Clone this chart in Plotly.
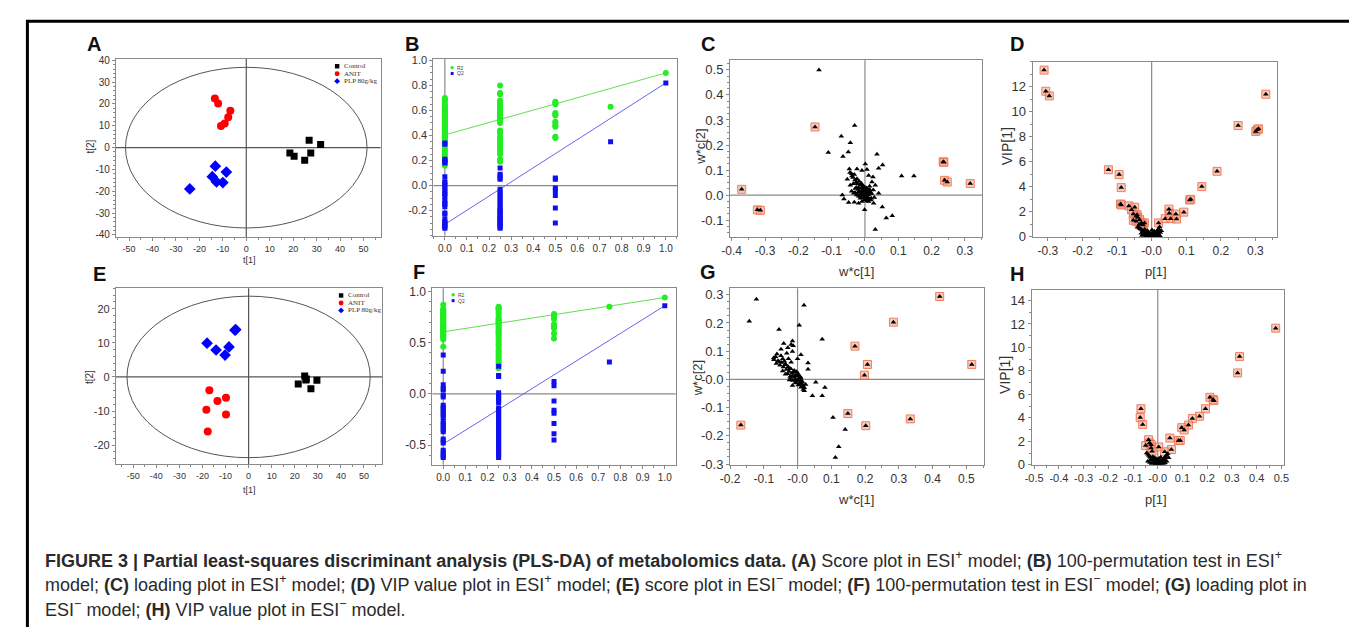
import plotly.graph_objects as go

W, H = 1357, 627
SANS = "Liberation Sans, Arial, sans-serif"
SERIF = "Liberation Serif, Times New Roman, serif"

# ---------------- Data ----------------
groups = ["Control", "ANIT", "PLP 80g/kg"]
group_colors = ["#000000", "#ff0000", "#0000ff"]
group_symbols = ["square", "circle", "diamond"]

# Panel A : score plot ESI+
a_control_x = [26.8, 31.7, 18.6, 20.4, 27.5, 24.9]
a_control_y = [3.4, 1.4, -2.5, -4.0, -2.5, -5.8]
a_anit_x = [-13.4, -12.0, -6.8, -7.7, -9.2, -10.8]
a_anit_y = [22.5, 20.2, 16.9, 13.9, 11.1, 9.9]
a_plp_x = [-13.2, -8.5, -14.5, -12.7, -10.0, -24.1]
a_plp_y = [-8.5, -11.2, -13.3, -15.7, -16.0, -18.9]
a_ellipse = [51.5, 36.8]

# Panel E : score plot ESI-
e_control_x = [24.3, 25.0, 21.5, 29.6, 27.0, 24.8]
e_control_y = [0.3, -0.6, -2.1, -1.0, -3.5, -0.9]
e_anit_x = [-17.0, -13.5, -9.8, -18.3, -9.8, -17.7]
e_anit_y = [-3.9, -7.1, -6.1, -9.6, -11.0, -16.0]
e_plp_x = [-5.6, -5.9, -18.0, -14.1, -8.5, -10.2]
e_plp_y = [13.9, 13.7, 9.9, 7.9, 8.8, 6.4]
e_ellipse = [52.7, 23.7]

# Panel B : permutation test ESI+
b_r2_000 = [0.70, 0.69, 0.68, 0.66, 0.64, 0.63, 0.62, 0.61, 0.60, 0.59, 0.58, 0.57, 0.56, 0.55, 0.54,
            0.53, 0.52, 0.51, 0.50, 0.49, 0.48, 0.47, 0.46, 0.45, 0.44, 0.43, 0.42, 0.41, 0.40, 0.39,
            0.38, 0.37, 0.36, 0.34, 0.32, 0.30, 0.28, 0.26, 0.24, 0.22, 0.20, 0.18, 0.16]
b_q2_000 = [0.34, 0.33, 0.21, 0.20, 0.19, 0.18, 0.07, 0.03, 0.02, 0.00, -0.02, -0.04, -0.06, -0.07,
            -0.09, -0.12, -0.14, -0.15, -0.17, -0.22, -0.23, -0.27, -0.29, -0.30, -0.31, -0.32, -0.33, -0.34]
b_r2_025 = [0.80, 0.74, 0.73, 0.68, 0.67, 0.66, 0.64, 0.63, 0.62, 0.61, 0.60, 0.59, 0.58, 0.57, 0.56,
            0.55, 0.54, 0.53, 0.52, 0.51, 0.50, 0.44, 0.43, 0.42, 0.39, 0.38, 0.37, 0.36, 0.34, 0.33,
            0.31, 0.30, 0.28, 0.26, 0.25, 0.21, 0.20, 0.19]
b_q2_025 = [0.14, 0.09, 0.08, 0.06, 0.05, -0.03, -0.05, -0.07, -0.09, -0.11, -0.13, -0.15, -0.17,
            -0.19, -0.20, -0.21, -0.22, -0.24, -0.25, -0.26, -0.27, -0.28, -0.29, -0.30, -0.31, -0.32,
            -0.33, -0.34]
b_r2_050 = [0.67, 0.66, 0.65, 0.58, 0.57, 0.56, 0.51, 0.50, 0.48, 0.47, 0.39, 0.38]
b_q2_050 = [0.06, 0.05, -0.02, -0.04, -0.08, -0.18, -0.30]
b_r2_075 = [0.63]
b_q2_075 = [0.35]
b_r2_100 = [0.90]
b_q2_100 = [0.82]
b_r2_intercept = 0.405
b_q2_intercept = -0.31

# Panel F : permutation test ESI-
f_r2_000 = [0.87, 0.83, 0.82, 0.81, 0.80, 0.79, 0.78, 0.77, 0.76, 0.75, 0.74, 0.73, 0.72, 0.71, 0.70,
            0.69, 0.68, 0.67, 0.66, 0.65, 0.64, 0.63, 0.62, 0.61, 0.60, 0.59, 0.58, 0.57, 0.56, 0.55,
            0.53, 0.46]
f_q2_000 = [0.38, 0.22, 0.09, 0.05, 0.04, -0.01, -0.03, -0.11, -0.13, -0.15, -0.17, -0.19, -0.21,
            -0.23, -0.27, -0.29, -0.31, -0.33, -0.35, -0.37, -0.44, -0.46, -0.48, -0.55, -0.57, -0.59,
            -0.61, -0.62]
f_r2_025 = [0.85, 0.84, 0.83, 0.82, 0.80, 0.78, 0.75, 0.73, 0.72, 0.71, 0.70, 0.69, 0.67, 0.65, 0.63,
            0.61, 0.60, 0.58, 0.56, 0.53, 0.51, 0.49, 0.47, 0.44, 0.42, 0.40, 0.38, 0.36, 0.34, 0.32,
            0.30, 0.28, 0.25]
f_q2_025 = [0.27, 0.18, 0.17, 0.01, -0.01, -0.03, -0.05, -0.07, -0.09, -0.14, -0.16, -0.18, -0.20,
            -0.22, -0.24, -0.26, -0.28, -0.30, -0.32, -0.34, -0.36, -0.38, -0.40, -0.42, -0.44, -0.46,
            -0.48, -0.50, -0.52, -0.54, -0.56, -0.58, -0.60, -0.62]
f_r2_050 = [0.78, 0.76, 0.75, 0.73, 0.68, 0.66, 0.64, 0.59, 0.54]
f_q2_050 = [0.12, 0.08, -0.07, -0.16, -0.19, -0.29, -0.39, -0.45]
f_r2_075 = [0.85]
f_q2_075 = [0.31]
f_r2_100 = [0.94]
f_q2_100 = [0.86]
f_r2_intercept = 0.605
f_q2_intercept = -0.49

# Panel C : loading plot ESI+ (w*c[1], w*c[2]) - highlighted (VIP) variables
c_hi_x = [-0.370, -0.323, -0.314, -0.150, 0.235, 0.237, 0.239, 0.247, 0.316]
c_hi_y = [0.023, -0.059, -0.061, 0.272, 0.133, 0.131, 0.059, 0.052, 0.046]
# other variables
c_lo_x = [-0.138, -0.031, -0.071, -0.044, -0.110, -0.050, -0.066, 0.036, 0.053, 0.041, 0.110, 0.147,
          0.082, 0.052, 0.064, 0.031, -0.001, 0.001, 0.006, -0.009, -0.024, -0.047, -0.032, -0.039,
          -0.053, -0.024, -0.044, -0.068, -0.063, -0.049, -0.032, -0.019, -0.009, 0.011, 0.026, 0.016,
          0.041, 0.031, 0.021, 0.024, 0.011, -0.014, -0.029, -0.019, -0.009, 0.001, -0.004, 0.006,
          -0.014, -0.001, 0.011, -0.024, -0.034, 0.019, -0.006, 0.003, -0.011, 0.008, -0.002, 0.014,
          -0.020, 0.004, -0.016, 0.009, -0.008, 0.000,
          -0.045, -0.040, -0.036, -0.030, -0.027, -0.022, -0.018, -0.012, -0.008, -0.004, 0.000, 0.004,
          0.008, 0.012, 0.016, 0.020, -0.026, -0.020, -0.016, -0.012, -0.006, 0.002, 0.007, 0.012,
          0.018, -0.030, -0.025, -0.019, -0.013, -0.007, 0.000, 0.006, -0.040, -0.035, -0.003, 0.010,
          0.025, 0.028, -0.010, 0.014]
c_lo_y = [0.500, 0.278, 0.235, 0.209, 0.170, 0.172, 0.154, 0.163, 0.120, 0.107, 0.076, 0.076,
          -0.082, -0.048, -0.091, -0.137, -0.059, 0.124, 0.102, 0.098, 0.104, 0.104, 0.082, 0.076,
          0.063, 0.065, 0.039, 0.000, -0.016, -0.030, -0.029, -0.033, -0.026, -0.026, -0.033, 0.007,
          0.007, 0.039, 0.052, 0.072, 0.078, 0.039, 0.026, 0.013, 0.000, 0.013, 0.026, -0.007,
          -0.013, -0.020, 0.000, 0.000, 0.007, -0.013, 0.018, 0.020, 0.005, 0.003, -0.010, 0.022,
          0.030, -0.015, 0.010, 0.015, 0.008, 0.004,
          0.090, 0.085, 0.070, 0.060, 0.050, 0.045, 0.055, 0.048, 0.040, 0.035, 0.030, 0.028,
          0.024, 0.018, 0.012, 0.006, 0.030, 0.022, 0.017, 0.012, 0.006, -0.002, -0.008, -0.015,
          -0.020, 0.010, 0.003, -0.005, -0.008, -0.012, -0.018, -0.024, 0.015, 0.045, 0.015, 0.008,
          0.020, -0.010, 0.028, 0.035]

# Panel D : VIP plot ESI+ (p[1], VIP[1])
d_hi_x = [-0.311, -0.306, -0.296, -0.125, -0.094, -0.088, -0.090, -0.088, -0.066, -0.058, -0.049,
          -0.053, -0.042, -0.053, -0.045, -0.035, -0.030, -0.021, -0.040, -0.036, -0.025, -0.045,
          -0.028, 0.020, 0.039, 0.050, 0.051, 0.055, 0.070, 0.072, 0.093, 0.110, 0.113, 0.145, 0.189,
          0.250, 0.301, 0.305, 0.309, 0.330]
d_hi_y = [13.33, 11.64, 11.27, 5.37, 4.98, 3.94, 2.63, 2.56, 2.48, 2.17, 2.37, 1.83, 1.77, 1.33,
          1.25, 1.38, 1.12, 1.12, 1.55, 1.00, 0.95, 1.65, 1.05, 1.12, 1.46, 2.22, 1.90, 1.46, 1.83,
          1.43, 1.98, 2.95, 3.00, 4.02, 5.24, 8.90, 8.43, 8.56, 8.64, 11.40]
d_lo_x = [-0.040, -0.036, -0.033, -0.030, -0.027, -0.024, -0.021, -0.018, -0.015, -0.012, -0.010,
          -0.008, -0.006, -0.004, -0.002, 0.000, 0.002, 0.004, 0.006, 0.008, 0.010, 0.012, 0.014,
          0.016, 0.018, 0.020, 0.023, -0.005, 0.000, 0.005, -0.010, 0.010, -0.003, 0.003, -0.015,
          0.015, -0.007, 0.007, 0.001,
          -0.030, -0.025, -0.020, -0.015, 0.015, 0.020, 0.025, 0.028, -0.012, -0.020, 0.008, -0.002,
          0.004, -0.008, 0.012, 0.024, -0.028]
d_lo_y = [0.80, 0.72, 0.65, 0.60, 0.52, 0.45, 0.40, 0.35, 0.30, 0.25, 0.20, 0.16, 0.12, 0.08, 0.04,
          0.00, 0.05, 0.10, 0.15, 0.20, 0.26, 0.32, 0.40, 0.48, 0.56, 0.65, 0.80, 0.02, 0.10, 0.02,
          0.05, 0.05, 0.20, 0.25, 0.10, 0.12, 0.30, 0.35, 0.55,
          0.30, 0.20, 0.15, 0.05, 0.05, 0.20, 0.35, 0.50, 0.50, 0.62, 0.45, 0.30, 0.35, 0.25, 0.15,
          0.10, 0.12]

# Panel G : loading plot ESI-
g_hi_x = [0.421, 0.284, 0.170, 0.207, 0.198, 0.516, 0.149, 0.202, 0.334, -0.168]
g_hi_y = [0.294, 0.203, 0.118, 0.053, 0.015, 0.053, -0.121, -0.164, -0.140, -0.162]
g_lo_x = [-0.122, -0.143, -0.055, 0.019, 0.005, 0.073, 0.105, 0.141, 0.122, 0.112, 0.044, 0.073,
          0.081, 0.054, 0.031, 0.031, 0.010, 0.000, -0.071, -0.061, -0.049, -0.041, -0.032, -0.015,
          -0.013, -0.015, -0.027, -0.039, -0.036, -0.024, -0.019, -0.021, -0.015, -0.010, -0.007,
          -0.003, 0.003, 0.005, 0.010, 0.007, 0.013, 0.017, 0.020, -0.007, -0.024, -0.015, -0.005,
          0.000, 0.010, 0.015, -0.063, -0.053, -0.044, -0.049, -0.029, -0.019, 0.001, 0.008, 0.012,
          -0.070, -0.065, -0.058, -0.052, -0.047, -0.042, -0.037, -0.033, -0.028, -0.025, -0.020,
          -0.017, -0.012, -0.009, -0.004, -0.001, 0.004, 0.008, 0.012, 0.016, 0.020, 0.024, -0.030,
          -0.022, -0.014, -0.006, 0.002, 0.010, -0.044, -0.036]
g_lo_y = [0.284, 0.206, 0.177, 0.263, 0.192, 0.142, -0.135, -0.178, -0.239, -0.277, -0.058, -0.058,
          -0.029, -0.010, 0.058, 0.036, 0.087, 0.073, 0.076, 0.090, 0.107, 0.127, 0.093, 0.136,
          0.119, 0.099, 0.073, 0.064, 0.055, 0.038, 0.061, 0.003, 0.013, 0.032, 0.015, 0.027, 0.014,
          -0.002, -0.008, -0.015, -0.026, -0.036, -0.040, 0.000, -0.002, -0.022, -0.013, -0.003,
          0.004, -0.010, 0.056, 0.062, 0.073, 0.084, 0.112, 0.124, 0.021, 0.009, -0.018,
          0.070, 0.080, 0.066, 0.050, 0.060, 0.044, 0.052, 0.035, 0.045, 0.028, 0.038, 0.022, 0.025,
          0.008, 0.012, -0.004, 0.002, -0.012, -0.006, -0.022, -0.030, -0.018, 0.020, 0.010, -0.004,
          -0.010, -0.020, -0.028, 0.030, 0.018]

# Panel H : VIP plot ESI-
h_hi_x = [0.477, 0.331, 0.323, 0.211, 0.224, 0.227, 0.193, 0.169, 0.140, 0.124, 0.097, 0.107, 0.084,
          0.091, 0.049, 0.055, 0.028, 0.004, -0.068, -0.071, -0.061, -0.037, -0.033, -0.049, -0.027,
          -0.027, -0.023]
h_hi_y = [11.64, 9.22, 7.83, 5.75, 5.56, 5.47, 4.78, 4.14, 3.94, 3.39, 3.17, 2.97, 2.08, 2.08, 2.28,
          1.31, 1.11, 1.53, 4.78, 4.03, 3.44, 2.14, 1.86, 1.64, 1.72, 1.44, 1.17]
h_lo_x = [-0.045, -0.040, -0.036, -0.032, -0.028, -0.024, -0.020, -0.016, -0.012, -0.008, -0.004,
          0.000, 0.004, 0.008, 0.012, 0.016, 0.020, 0.024, 0.028, 0.032, 0.036, 0.040, -0.010, 0.010,
          -0.005, 0.005, 0.000, -0.015, 0.015, 0.030, 0.022,
          -0.040, -0.032, -0.025, -0.020, -0.012, 0.012, 0.022, 0.030, 0.036, 0.044, 0.005, -0.005,
          0.000, 0.018, -0.028]
h_lo_y = [1.00, 0.90, 0.80, 0.70, 0.62, 0.52, 0.44, 0.36, 0.28, 0.20, 0.10, 0.02, 0.10, 0.20, 0.28,
          0.36, 0.44, 0.52, 0.62, 0.72, 0.82, 0.95, 0.05, 0.05, 0.30, 0.30, 0.40, 0.15, 0.15, 0.40,
          0.20,
          0.30, 0.20, 0.10, 0.70, 0.60, 0.65, 0.10, 0.15, 0.30, 0.60, 0.55, 0.50, 0.20, 0.30, 0.45]

# ---------------- Layout geometry (pixels) ----------------
panels = {
    1: dict(box=(99, 47.7, 366.7, 229.3), xr=[-55.6, 57.3], yr=[-40.9, 40.7]),     # A
    2: dict(box=(420, 47.7, 666.7, 228.0), xr=[-0.052, 1.052], yr=[-0.40, 1.013]),  # B
    3: dict(box=(720, 49.3, 975, 229.3), xr=[-0.405, 0.352], yr=[-0.167, 0.538]),   # C
    4: dict(box=(1026, 50.7, 1273.3, 229.3), xr=[-0.344, 0.363], yr=[0, 14.0]),     # D
    5: dict(box=(99, 281.7, 368.3, 461), xr=[-57.5, 57.9], yr=[-25.6, 26.0]),       # E
    6: dict(box=(419, 281.7, 665, 461.7), xr=[-0.049, 1.049], yr=[-0.693, 1.03]),   # F
    7: dict(box=(720, 281.7, 976.7, 461.7), xr=[-0.2, 0.552], yr=[-0.303, 0.323]),  # G
    8: dict(box=(1025, 283.3, 1280, 461.7), xr=[-0.51, 0.51], yr=[0, 14.9]),        # H
}

AXC = "#8a8a8a"
TXT = "#333333"


def xdom(l, r):
    return [l / W, r / W]


def ydom(t, b):
    return [1 - b / H, 1 - t / H]


def frange(a, b, s):
    n = int(round((b - a) / s))
    return [round(a + i * s, 6) for i in range(n + 1)]


tick_cfg = {
    1: dict(x=(frange(-50, 50, 10), None, 5, 9), y=(frange(-40, 40, 10), None, 2, 10)),
    2: dict(x=(frange(0, 1, 0.1), "{:.1f}", 0.05, 10), y=(frange(-0.2, 1.0, 0.2), "{:.1f}", 0.05, 11)),
    3: dict(x=(frange(-0.4, 0.3, 0.1), "-0", 0.05, 12), y=(frange(-0.1, 0.5, 0.1), "{:.1f}", 0.025, 13)),
    4: dict(x=(frange(-0.3, 0.3, 0.1), "-0", 0.05, 12), y=(frange(0, 12, 2), None, 1, 13)),
    5: dict(x=(frange(-50, 50, 10), None, 5, 9), y=(frange(-20, 20, 10), None, 2, 11)),
    6: dict(x=(frange(0, 1, 0.1), "{:.1f}", 0.05, 10), y=(frange(-0.5, 1.0, 0.5), "{:.1f}", 0.1, 12)),
    7: dict(x=(frange(-0.2, 0.5, 0.1), "-0", 0.05, 12), y=(frange(-0.3, 0.3, 0.1), "-0", 0.025, 13)),
    8: dict(x=(frange(-0.5, 0.5, 0.1), "-0", 0.05, 11), y=(frange(0, 14, 2), None, 1, 13)),
}


def tick_text(vals, mode):
    out = []
    for v in vals:
        if mode is None:
            out.append(str(int(round(v))))
        elif mode == "-0":
            out.append("-0.0" if abs(v) < 1e-9 else "{:.1f}".format(v))
        else:
            out.append(mode.format(v))
    return out


fig = go.Figure()
layout_axes = {}
for k, p in panels.items():
    l, t, r, b = p["box"]
    sx = "" if k == 1 else str(k)
    tc = tick_cfg[k]
    xv, xm, xminor, xfs = tc["x"]
    yv, ym, yminor, yfs = tc["y"]
    common = dict(showgrid=False, zeroline=False, showline=True, linecolor=AXC, linewidth=1,
                  mirror=True, ticks="outside", ticklen=3, tickcolor=AXC, tickwidth=1,
                  fixedrange=True)
    layout_axes["xaxis" + sx] = dict(
        common, domain=xdom(l, r), range=p["xr"], anchor="y" + sx,
        tickmode="array", tickvals=xv, ticktext=tick_text(xv, xm),
        tickfont=dict(family=SANS, size=xfs, color=TXT),
        minor=dict(ticks="outside", ticklen=2, tickcolor=AXC, dtick=xminor, tick0=0, showgrid=False))
    layout_axes["yaxis" + sx] = dict(
        common, domain=ydom(t, b), range=p["yr"], anchor="x" + sx,
        tickmode="array", tickvals=yv, ticktext=tick_text(yv, ym),
        tickfont=dict(family=SANS, size=yfs, color=TXT),
        minor=dict(ticks="outside", ticklen=2, tickcolor=AXC, dtick=yminor, tick0=0, showgrid=False))


def add(k, x, y, **kw):
    sx = "" if k == 1 else str(k)
    fig.add_trace(go.Scatter(x=x, y=y, xaxis="x" + sx, yaxis="y" + sx, showlegend=False,
                             hoverinfo="skip", **kw))


# Score plots
for k, data in ((1, [(a_control_x, a_control_y), (a_anit_x, a_anit_y), (a_plp_x, a_plp_y)]),
                (5, [(e_control_x, e_control_y), (e_anit_x, e_anit_y), (e_plp_x, e_plp_y)])):
    for gi, (gx, gy) in enumerate(data):
        sz = {"square": 7, "circle": 8, "diamond": 9}[group_symbols[gi]]
        add(k, gx, gy, mode="markers",
            marker=dict(symbol=group_symbols[gi], color=group_colors[gi], size=sz, line=dict(width=0)))


# Permutation plots
def perm(k, r2cols, q2cols, r2i, q2i):
    levels = [0.0, 0.25, 0.5, 0.75, 1.0]
    rx, ry, qx, qy = [], [], [], []
    for lv, col in zip(levels, r2cols):
        rx += [lv] * len(col)
        ry += col
    for lv, col in zip(levels, q2cols):
        qx += [lv] * len(col)
        qy += col
    add(k, [0, 1.0], [r2i, r2cols[-1][0]], mode="lines", line=dict(color="#66dd55", width=1))
    add(k, [0, 1.0], [q2i, q2cols[-1][0]], mode="lines", line=dict(color="#6666ee", width=1))
    add(k, rx, ry, mode="markers", marker=dict(symbol="circle", color="#22ee22", size=6))
    add(k, qx, qy, mode="markers", marker=dict(symbol="square", color="#1010ee", size=5))


perm(2, [b_r2_000, b_r2_025, b_r2_050, b_r2_075, b_r2_100],
     [b_q2_000, b_q2_025, b_q2_050, b_q2_075, b_q2_100], b_r2_intercept, b_q2_intercept)
perm(6, [f_r2_000, f_r2_025, f_r2_050, f_r2_075, f_r2_100],
     [f_q2_000, f_q2_025, f_q2_050, f_q2_075, f_q2_100], f_r2_intercept, f_q2_intercept)

HI = dict(symbol="square", size=8, color="rgba(248,165,140,0.6)",
          line=dict(color="rgba(236,110,75,0.85)", width=1))
TRI = dict(symbol="triangle-up", size=5, color="#000000", line=dict(width=0))

# Loading / VIP plots
for k, hx, hy, lx, ly in ((3, c_hi_x, c_hi_y, c_lo_x, c_lo_y),
                          (4, d_hi_x, d_hi_y, d_lo_x, d_lo_y),
                          (7, g_hi_x, g_hi_y, g_lo_x, g_lo_y),
                          (8, h_hi_x, h_hi_y, h_lo_x, h_lo_y)):
    add(k, hx, hy, mode="markers", marker=HI)
    add(k, lx, ly, mode="markers", marker=TRI)
    add(k, hx, hy, mode="markers", marker=TRI)

shapes = []
# zero cross lines
for k in panels:
    sx = "" if k == 1 else str(k)
    col = "#555555" if k in (1, 5) else "#8a8a8a"
    shapes.append(dict(type="line", xref="x" + sx, yref="y" + sx + " domain", x0=0, x1=0, y0=0, y1=1,
                       line=dict(color=col, width=1.2), layer="below"))
    if k not in (4, 8):
        shapes.append(dict(type="line", xref="x" + sx + " domain", yref="y" + sx, x0=0, x1=1, y0=0, y1=0,
                           line=dict(color=col, width=1.2), layer="below"))
# Hotelling ellipses
for k, (rx, ry) in ((1, a_ellipse), (5, e_ellipse)):
    sx = "" if k == 1 else str(k)
    shapes.append(dict(type="circle", xref="x" + sx, yref="y" + sx, x0=-rx, x1=rx, y0=-ry, y1=ry,
                       line=dict(color="#555555", width=1), layer="below"))


# legend markers (paper coordinates)
def pmark(kind, cx, cy, s, color):
    x0, x1 = (cx - s / 2) / W, (cx + s / 2) / W
    y0, y1 = 1 - (cy + s / 2) / H, 1 - (cy - s / 2) / H
    if kind == "square":
        return dict(type="rect", xref="paper", yref="paper", x0=x0, x1=x1, y0=y0, y1=y1,
                    fillcolor=color, line=dict(width=0))
    if kind == "circle":
        return dict(type="circle", xref="paper", yref="paper", x0=x0, x1=x1, y0=y0, y1=y1,
                    fillcolor=color, line=dict(width=0))
    xm, ym = cx / W, 1 - cy / H
    return dict(type="path", xref="paper", yref="paper",
                path=f"M {x0} {ym} L {xm} {y1} L {x1} {ym} L {xm} {y0} Z",
                fillcolor=color, line=dict(width=0))


annotations = []


def ann(text, x, y, size, family=SANS, color="#222222", angle=0, xanchor="center", yanchor="middle"):
    annotations.append(dict(text=text, x=x / W, y=1 - y / H, xref="paper", yref="paper",
                            showarrow=False, font=dict(family=family, size=size, color=color),
                            textangle=angle, xanchor=xanchor, yanchor=yanchor))


for (mx, my0) in ((322.7, 55.3), (326.7, 289.0)):
    for gi, g in enumerate(groups):
        cy = my0 + gi * 7.6
        s = {"square": 4.5, "circle": 5, "diamond": 6}[group_symbols[gi]]
        shapes.append(pmark(group_symbols[gi], mx, cy, s, group_colors[gi]))
        ann(g, mx + 4.5, cy, 7, family=SERIF, color="#333333", xanchor="left")

for (mx, my0) in ((439, 56.7), (440, 288.3)):
    shapes.append(pmark("circle", mx, my0, 3.5, "#22ee22"))
    shapes.append(pmark("square", mx, my0 + 6, 3, "#1010ee"))
    ann("R2", mx + 3, my0, 5, color="#444444", xanchor="left")
    ann("Q2", mx + 3, my0 + 6, 5, color="#444444", xanchor="left")

# panel letters
for letter, x, y in (("A", 77, 33), ("B", 398, 33), ("C", 698, 33), ("D", 1010, 33),
                     ("E", 82, 267), ("F", 405, 265), ("G", 698, 265), ("H", 1010, 267)):
    ann("<b>" + letter + "</b>", x, y, 20, color="#111111")

# axis titles
for text, x, y, size, ang in (("t[1]", 234, 253, 9, 0), ("t[2]", 73, 137, 10, -90),
                              ("w*c[1]", 847, 265, 13, 0), ("w*c[2]", 690, 137, 13, -90),
                              ("p[1]", 1151, 265, 13, 0), ("VIP[1]", 1000, 137, 14, -90),
                              ("t[1]", 234, 487, 9, 0), ("t[2]", 73, 372, 10, -90),
                              ("w*c[1]", 847, 497, 13, 0), ("w*c[2]", 687, 373, 13, -90),
                              ("p[1]", 1151, 497, 13, 0), ("VIP[1]", 998, 370, 14, -90)):
    ann(text, x, y, size, color=TXT, angle=ang)

# caption
cap = [
    "<b>FIGURE 3 | Partial least-squares discriminant analysis (PLS-DA) of metabolomics data. (A)</b> "
    "Score plot in ESI<sup>+</sup> model; <b>(B)</b> 100-permutation test in ESI<sup>+</sup>",
    "model; <b>(C)</b> loading plot in ESI<sup>+</sup> model; <b>(D)</b> VIP value plot in ESI<sup>+</sup> "
    "model; <b>(E)</b> score plot in ESI<sup>\u2212</sup> model; <b>(F)</b> 100-permutation test in "
    "ESI<sup>\u2212</sup> model; <b>(G)</b> loading plot in",
    "ESI<sup>\u2212</sup> model; <b>(H)</b> VIP value plot in ESI<sup>\u2212</sup> model.",
]
for i, line in enumerate(cap):
    ann(line, 25, 558 + 25 * i, 18, color="#2a2a2a", xanchor="left")

# outer frame
shapes.append(dict(type="rect", xref="paper", yref="paper", x0=9.5 / W, x1=1347.5 / W,
                   y0=1 - 660 / H, y1=1 - 9.5 / H, line=dict(color="#000000", width=3),
                   fillcolor="rgba(0,0,0,0)"))

fig.update_layout(width=W, height=H, margin=dict(l=0, r=0, t=0, b=0), autosize=False,
                  paper_bgcolor="white", plot_bgcolor="white", showlegend=False,
                  shapes=shapes, annotations=annotations, **layout_axes)

fig.write_html("out.html")
